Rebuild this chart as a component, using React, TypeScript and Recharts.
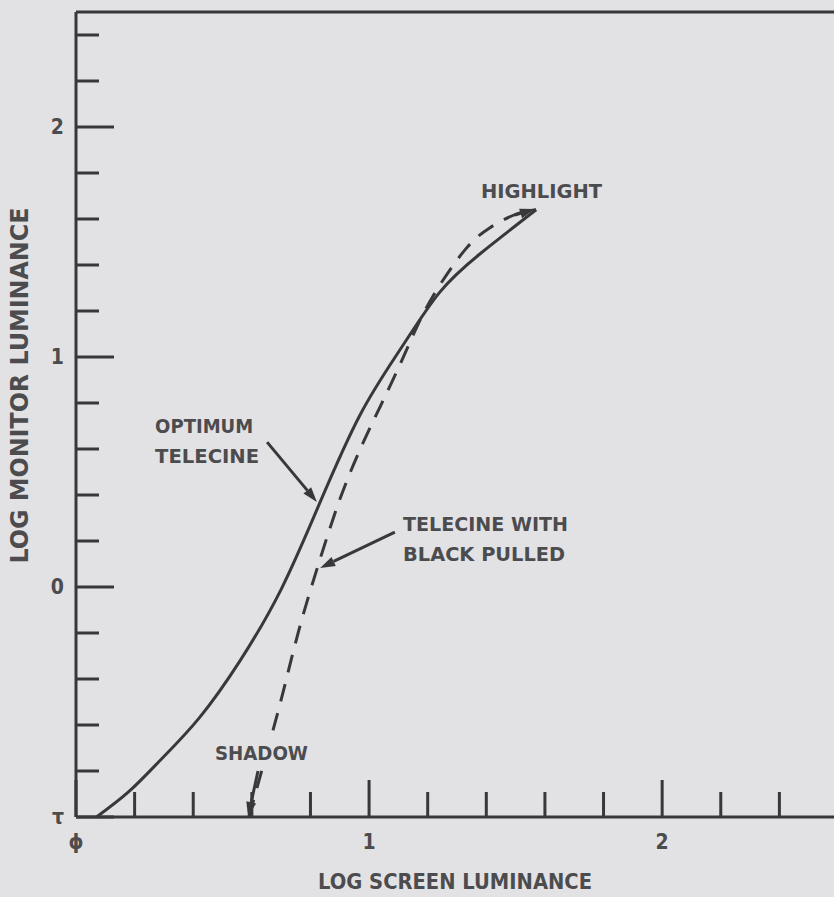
import React from "react";
import {
  LineChart,
  Line,
  XAxis,
  YAxis,
  ReferenceDot,
  ReferenceLine,
  Label,
} from "recharts";

const BG = "#e2e2e4";
const INK = "#38383a";
const TEXT = "#4c4c4e";
const FONT = "'DejaVu Sans Condensed', 'DejaVu Sans', sans-serif";

// optimum telecine curve (log screen luminance -> log monitor luminance)
const optimumX = [0.07, 0.18, 0.29, 0.42, 0.56, 0.7, 0.83, 0.97, 1.11, 1.24, 1.38, 1.57];
const optimumY = [-1.0, -0.89, -0.75, -0.57, -0.32, -0.01, 0.36, 0.75, 1.04, 1.28, 1.45, 1.64];

// telecine with black pulled (dashed)
const pulledX = [0.59, 0.64, 0.7, 0.76, 0.83, 0.9, 0.97, 1.04, 1.11, 1.17, 1.24, 1.33, 1.41, 1.5, 1.57];
const pulledY = [-1.0, -0.77, -0.49, -0.19, 0.11, 0.38, 0.6, 0.79, 0.98, 1.15, 1.31, 1.47, 1.56, 1.62, 1.64];

const xTicks = [0, 0.2, 0.4, 0.6, 0.8, 1, 1.2, 1.4, 1.6, 1.8, 2, 2.2, 2.4, 2.6];
const yTicks = [-1, -0.8, -0.6, -0.4, -0.2, 0, 0.2, 0.4, 0.6, 0.8, 1, 1.2, 1.4, 1.6, 1.8, 2, 2.2, 2.4];
const xTickLabels: Record<string, string> = { "0": "ϕ", "1": "1", "2": "2" };
const yTickLabels: Record<string, string> = { "-1": "τ", "0": "0", "1": "1", "2": "2" };

// annotations: text anchored at left / vertical centre of first line
const notes = [
  { x: 1.382, y: 1.726, lines: ["HIGHLIGHT"], widths: [121], mask: false },
  { x: 0.27, y: 0.704, lines: ["OPTIMUM", "TELECINE"], widths: [98, 104], mask: false },
  { x: 1.116, y: 0.278, lines: ["TELECINE WITH", "BLACK PULLED"], widths: [165, 162], mask: false },
  { x: 0.474, y: -0.717, lines: ["SHADOW"], widths: [93], mask: true },
];

const arrows = [
  { from: { x: 0.652, y: 0.63 }, to: { x: 0.822, y: 0.37 } },
  { from: { x: 1.088, y: 0.239 }, to: { x: 0.833, y: 0.083 } },
  { from: { x: 0.621, y: -0.8 }, to: { x: 0.587, y: -1.0 } },
  { from: { x: 1.498, y: 1.617 }, to: { x: 1.566, y: 1.643 } },
];

const optimum = optimumX.map((x, i) => ({ x, y: optimumY[i] }));
const pulled = pulledX.map((x, i) => ({ x, y: pulledY[i] }));

const isMajor = (v: number) => Math.abs(v - Math.round(v)) < 1e-6;

function BottomTick({ x, y, payload }: any) {
  const v = payload.value;
  const len = isMajor(v) ? 37 : 25;
  const label = xTickLabels[String(v)];
  return (
    <g>
      <line x1={x} y1={y} x2={x} y2={y - len} stroke={INK} strokeWidth={3} />
      {label && (
        <text x={x} y={y + 32} textAnchor="middle" fontFamily={FONT} fontWeight="bold" fontSize={21} fill={TEXT}>
          {label}
        </text>
      )}
    </g>
  );
}

function TopTick({ x, y, payload }: any) {
  const len = isMajor(payload.value) ? 41 : 25;
  return <line x1={x} y1={y} x2={x} y2={y + len} stroke={INK} strokeWidth={3} />;
}

function LeftTick({ x, y, payload }: any) {
  const v = payload.value;
  const len = isMajor(v) ? 38 : 23;
  const label = yTickLabels[String(v)];
  return (
    <g>
      <line x1={x} y1={y} x2={x + len} y2={y} stroke={INK} strokeWidth={3} />
      {label && (
        <text x={x - 12} y={y + 7} textAnchor="end" fontFamily={FONT} fontWeight="bold" fontSize={21} fill={TEXT}>
          {label}
        </text>
      )}
    </g>
  );
}

function RightTick({ x, y, payload }: any) {
  const len = isMajor(payload.value) ? 36 : 22;
  return <line x1={x} y1={y} x2={x - len} y2={y} stroke={INK} strokeWidth={3} />;
}

function ArrowShape({ x1, y1, x2, y2 }: any) {
  const dx = x2 - x1;
  const dy = y2 - y1;
  const len = Math.hypot(dx, dy) || 1;
  const ux = dx / len;
  const uy = dy / len;
  const hl = 15;
  const hw = 5;
  const bx = x2 - ux * hl;
  const by = y2 - uy * hl;
  const pts = `${x2},${y2} ${bx - uy * hw},${by + ux * hw} ${bx + uy * hw},${by - ux * hw}`;
  return (
    <g>
      <line x1={x1} y1={y1} x2={bx} y2={by} stroke={INK} strokeWidth={3} />
      <polygon points={pts} fill={INK} />
    </g>
  );
}

function noteShape(note: (typeof notes)[number]) {
  return ({ cx, cy }: any) => (
    <g>
      {note.mask && (
        <rect x={cx - 4} y={cy - 14} width={note.widths[0] + 8} height={28} fill={BG} />
      )}
      {note.lines.map((t, i) => (
        <text
          key={t}
          x={cx}
          y={cy + 8 + i * 30}
          textLength={note.widths[i]}
          lengthAdjust="spacingAndGlyphs"
          fontFamily={FONT}
          fontWeight="bold"
          fontSize={20}
          fill={TEXT}
        >
          {t}
        </text>
      ))}
    </g>
  );
}

export default function App() {
  return (
    <div
      style={{
        position: "absolute",
        left: 0,
        top: 0,
        width: 834,
        height: 897,
        overflow: "hidden",
        background: BG,
      }}
    >
      <LineChart width={850} height={897} margin={{ top: 0, right: 0, bottom: 0, left: 0 }}>
        <XAxis
          dataKey="x"
          type="number"
          domain={[0, 2.6]}
          ticks={xTicks}
          interval={0}
          height={80}
          tickSize={0}
          tickMargin={0}
          tick={<BottomTick />}
          axisLine={{ stroke: INK, strokeWidth: 3 }}
        >
          <Label
            content={(p: any) => {
              const vb = p.viewBox;
              return (
                <text
                  x={vb.x + vb.width / 2 - 2}
                  y={vb.y + 72}
                  textAnchor="middle"
                  textLength={274}
                  lengthAdjust="spacingAndGlyphs"
                  fontFamily={FONT}
                  fontWeight="bold"
                  fontSize={22}
                  fill={TEXT}
                >
                  LOG SCREEN LUMINANCE
                </text>
              );
            }}
          />
        </XAxis>
        <XAxis
          xAxisId="top"
          orientation="top"
          dataKey="x"
          type="number"
          domain={[0, 2.6]}
          ticks={xTicks}
          interval={0}
          height={12}
          tickSize={0}
          tickMargin={0}
          tick={<TopTick />}
          axisLine={{ stroke: INK, strokeWidth: 3 }}
        />
        <YAxis
          type="number"
          domain={[-1, 2.5]}
          ticks={yTicks}
          interval={0}
          width={76}
          tickSize={0}
          tickMargin={0}
          tick={<LeftTick />}
          axisLine={{ stroke: INK, strokeWidth: 3 }}
        >
          <Label
            content={(p: any) => {
              const vb = p.viewBox;
              const cx = vb.x + 28;
              const cy = vb.y + vb.height / 2 - 29;
              return (
                <text
                  x={cx}
                  y={cy}
                  transform={`rotate(-90, ${cx}, ${cy})`}
                  textAnchor="middle"
                  textLength={356}
                  lengthAdjust="spacingAndGlyphs"
                  fontFamily={FONT}
                  fontWeight="bold"
                  fontSize={24}
                  fill={TEXT}
                >
                  LOG MONITOR LUMINANCE
                </text>
              );
            }}
          />
        </YAxis>
        <YAxis
          yAxisId="right"
          orientation="right"
          type="number"
          domain={[-1, 2.5]}
          ticks={yTicks}
          interval={0}
          width={12}
          tickSize={0}
          tickMargin={0}
          tick={<RightTick />}
          axisLine={{ stroke: INK, strokeWidth: 3 }}
        />
        <Line
          data={optimum}
          dataKey="y"
          type="natural"
          stroke={INK}
          strokeWidth={3}
          dot={false}
          isAnimationActive={false}
        />
        <Line
          data={pulled}
          dataKey="y"
          type="natural"
          stroke={INK}
          strokeWidth={3}
          strokeDasharray="18 12"
          dot={false}
          isAnimationActive={false}
        />
        {arrows.map((a, i) => (
          <ReferenceLine
            key={`a${i}`}
            segment={[a.from, a.to]}
            ifOverflow="visible"
            shape={(p: any) => <ArrowShape {...p} />}
          />
        ))}
        {notes.map((n, i) => (
          <ReferenceDot
            key={`n${i}`}
            x={n.x}
            y={n.y}
            r={1}
            ifOverflow="visible"
            shape={noteShape(n)}
          />
        ))}
      </LineChart>
    </div>
  );
}
